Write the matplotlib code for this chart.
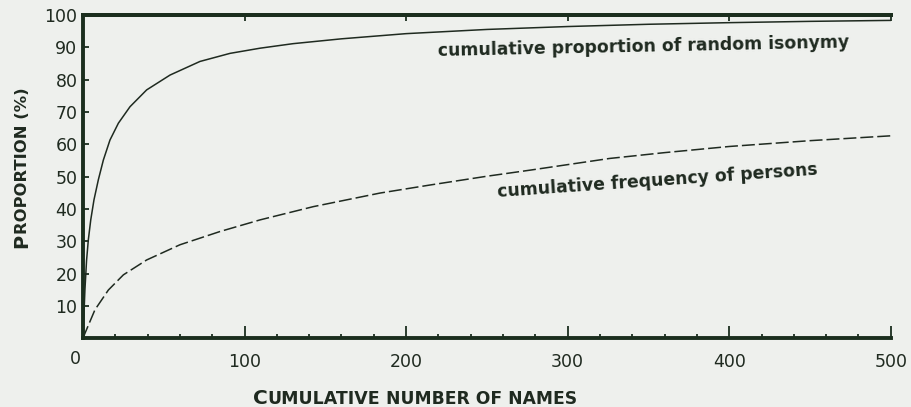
import matplotlib
matplotlib.use("Agg")
import matplotlib.pyplot as plt

# values
isonymy_names = [0, 1.2, 2.2, 3.3, 4.8, 6.8, 9.5, 12.6, 16.7, 21.9, 29.1, 39.4, 53.9,
                 72.4, 91, 109.6, 130, 160, 200, 250, 300, 350, 400, 450, 500]
isonymy_pct = [0, 15, 24, 30.4, 36.6, 42.8, 49, 55.1, 61.3, 66.5, 71.6, 76.8, 81.4,
               85.6, 88.1, 89.7, 91.1, 92.6, 94.2, 95.5, 96.4, 97.1, 97.6, 98, 98.3]

persons_names = [0, 1.2, 7.4, 15.7, 25, 39.4, 60, 84.8, 109.6, 142.6, 183.9, 215, 250,
                 277, 326, 360, 400, 450, 500]
persons_pct = [0, 1.5, 8.8, 14.9, 19.6, 24.2, 28.9, 33, 36.6, 40.7, 44.9, 47.4, 50.1,
               52, 55.6, 57.4, 59.3, 61.1, 62.6]

x_major = [100, 200, 300, 400, 500]
x_minor = list(range(20, 500, 20))
y_major = [10, 20, 30, 40, 50, 60, 70, 80, 90, 100]

BG = "#eef0ed"
INK = "#1f2a20"
AXIS = "#1b2e1e"

fig = plt.figure(figsize=(9.12, 4.07), dpi=100, facecolor=BG)
ax = fig.add_axes([0.091, 0.169, 0.8857, 0.7944], facecolor=BG)

ax.plot(isonymy_names, isonymy_pct, color=INK, lw=1.1)
ax.plot(persons_names, persons_pct, color=INK, lw=1.1, dashes=(8.5, 2.6))

ax.set_xlim(0, 500)
ax.set_ylim(0, 100)

for side in ["left", "bottom", "top"]:
    ax.spines[side].set_linewidth(2.8)
    ax.spines[side].set_color(AXIS)
ax.spines["right"].set_visible(False)

ax.set_xticks(x_major)
ax.set_xticks(x_minor, minor=True)
ax.set_yticks(y_major)
ax.tick_params(axis="x", which="major", direction="in", length=9, width=1.3,
               color=AXIS, pad=11, labelsize=12.5, labelcolor=INK)
ax.tick_params(axis="x", which="minor", direction="in", length=3, width=1.3, color=AXIS)
ax.tick_params(axis="y", which="major", direction="in", length=4, width=1.3,
               color=AXIS, pad=4, labelsize=12.5, labelcolor=INK)

top = ax.secondary_xaxis("top")
top.set_xticks(x_major)
top.tick_params(direction="in", length=4, width=1.3, color=AXIS, labeltop=False)
top.spines["top"].set_linewidth(2.8)
top.spines["top"].set_color(AXIS)

# shared origin label
ax.text(-5, -0.064, "0", transform=ax.get_xaxis_transform(), ha="center", va="center",
        fontsize=12.5, color=INK)

# curve labels
ax.text(220, 87.3, "cumulative proportion of random isonymy", rotation=1.2,
        rotation_mode="anchor", ha="left", va="baseline", fontsize=12.4,
        fontweight="bold", color=INK)
ax.text(257, 43.8, "cumulative frequency of persons", rotation=4,
        rotation_mode="anchor", ha="left", va="baseline", fontsize=12.4,
        fontweight="bold", color=INK)

# small-caps axis titles built from pieces
xb = -0.203
c1 = ax.text(0.2105, xb, "C", transform=ax.transAxes, fontsize=14.5,
             fontweight="bold", ha="left", va="baseline", color=INK)
c2 = ax.annotate("UMULATIVE", xy=(1, xb), xycoords=(c1, ax.transAxes), fontsize=12.5,
                 fontweight="bold", ha="left", va="baseline", color=INK,
                 annotation_clip=False)
ax.annotate(" NUMBER OF NAMES", xy=(1, xb), xycoords=(c2, ax.transAxes), fontsize=12.3,
            fontweight="bold", ha="left", va="baseline", color=INK,
            annotation_clip=False)

yb = -0.0693
p1 = ax.text(yb, 0.279, "P", transform=ax.transAxes, fontsize=14, fontweight="bold",
             rotation=90, rotation_mode="anchor", ha="left", va="baseline", color=INK)
ax.annotate("ROPORTION (%)", xy=(yb, 1), xycoords=(ax.transAxes, p1), fontsize=11.8,
            fontweight="bold", rotation=90, rotation_mode="anchor", ha="left",
            va="baseline", color=INK, annotation_clip=False)

fig.savefig("out.png", dpi=100, facecolor=BG)
